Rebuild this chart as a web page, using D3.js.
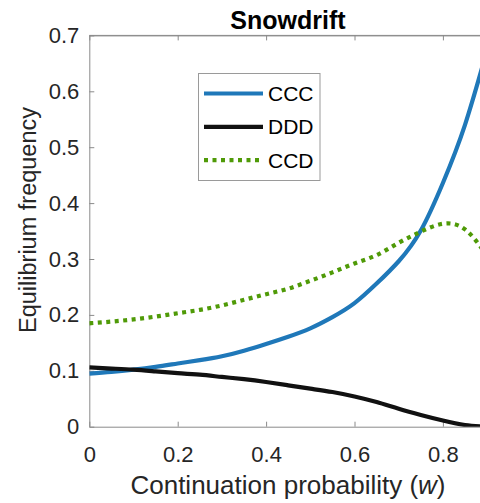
<!DOCTYPE html>
<html><head><meta charset="utf-8">
<script src="https://cdn.jsdelivr.net/npm/d3@7"></script>
<style>body{margin:0;background:#fff}svg{display:block}text{font-family:"Liberation Sans",Arial,sans-serif}</style>
</head><body>
<svg id="c" width="480" height="503"></svg>
<script>
const w = [0,0.05,0.1,0.15,0.2,0.25,0.3,0.35,0.4,0.45,0.5,0.55,0.6,0.65,0.7,0.75,0.8,0.85,0.9];
const ccc = [0.095,0.098,0.102,0.107,0.113,0.119,0.126,0.136,0.148,0.161,0.176,0.196,0.221,0.256,0.296,0.351,0.436,0.540,0.674];
const ddd = [0.106,0.104,0.102,0.099,0.096,0.093,0.089,0.085,0.080,0.074,0.068,0.062,0.054,0.044,0.032,0.021,0.011,0.003,0.000];
const ccd = [0.185,0.188,0.192,0.197,0.203,0.209,0.217,0.227,0.237,0.247,0.261,0.276,0.292,0.307,0.329,0.349,0.363,0.353,0.306];
const seriesNames = ["CCC","DDD","CCD"];
const xTicks = [0,0.2,0.4,0.6,0.8];
const xTickMarks = [0,0.2,0.4,0.6,0.8,1];
const yTicks = [0,0.1,0.2,0.3,0.4,0.5,0.6,0.7];
const title = "Snowdrift";
const xLabel = "Continuation probability (";
const yLabel = "Equilibrium frequency";

const svg = d3.select("#c");
const L = 89.3, T = 35.4, B = 426.7, R = 531.3;
const x = d3.scaleLinear().domain([0,1]).range([L,R]);
const y = d3.scaleLinear().domain([0,0.7]).range([B,T]);
const axisColor = "#8a8a8a", txt = "#262626";

svg.append("defs").append("clipPath").attr("id","clip")
  .append("rect").attr("x",L).attr("y",T).attr("width",R-L).attr("height",B-T);

svg.append("line").attr("x1",L).attr("x2",R).attr("y1",T).attr("y2",T).attr("stroke",axisColor);
const gxm = svg.append("g").attr("transform",`translate(0,${B})`)
  .call(d3.axisBottom(x).tickValues(xTickMarks).tickSizeInner(-5).tickSizeOuter(0).tickFormat(""));
const gx = svg.append("g").attr("transform",`translate(0,${B})`)
  .call(d3.axisBottom(x).tickValues(xTicks).tickSize(0).tickPadding(20).tickFormat(d=>d===0?"0":d3.format(".1f")(d)));
gx.select(".domain").remove();
const gxt = svg.append("g").attr("transform",`translate(0,${T})`)
  .call(d3.axisTop(x).tickValues(xTickMarks).tickSizeInner(-5).tickSizeOuter(0).tickFormat(""));
const gy = svg.append("g").attr("transform",`translate(${L},0)`)
  .call(d3.axisLeft(y).tickValues(yTicks).tickSizeInner(-5).tickSizeOuter(0).tickPadding(10).tickFormat(d=>d===0?"0":d3.format(".1f")(d)));
[gxm,gx,gxt,gy].forEach(g=>{
  g.select(".domain").attr("stroke",axisColor);
  g.selectAll(".tick line").attr("stroke",axisColor);
  g.selectAll(".tick text").attr("fill",txt).style("font-size","22px").style("font-family","'Liberation Sans',Arial,sans-serif");
});

const line = d3.line().x(d=>x(d[0])).y(d=>y(d[1])).curve(d3.curveNatural);
const plot = svg.append("g").attr("clip-path","url(#clip)");
const series = [
  {name:seriesNames[0], vals:ccc, color:"#1f78b9", dash:null},
  {name:seriesNames[1], vals:ddd, color:"#111111", dash:null},
  {name:seriesNames[2], vals:ccd, color:"#4f9a07", dash:"4,4.5"}
];
series.forEach(s=>{
  plot.append("path").datum(w.map((v,i)=>[v,s.vals[i]]))
    .attr("d",line).attr("fill","none").attr("stroke",s.color)
    .attr("stroke-width",4.2).attr("stroke-dasharray",s.dash);
});

svg.append("text").attr("x",288).attr("y",29).attr("text-anchor","middle")
  .style("font-size","25px").style("font-weight","bold").attr("fill","#000").text(title);
const xl = svg.append("text").attr("x",288).attr("y",494).attr("text-anchor","middle")
  .style("font-size","26px").attr("fill",txt);
xl.append("tspan").text(xLabel);
xl.append("tspan").style("font-style","italic").text("w");
xl.append("tspan").text(")");
svg.append("text").attr("transform","translate(36,220) rotate(-90)").attr("text-anchor","middle")
  .style("font-size","23.5px").attr("fill",txt).text(yLabel);

const lg = svg.append("g");
lg.append("rect").attr("x",198.5).attr("y",73.5).attr("width",121.5).attr("height",107)
  .attr("fill","#fff").attr("stroke","#9a9a9a").attr("stroke-width",1);
series.forEach((s,i)=>{
  const yy = 93.5 + i*33.3;
  lg.append("line").attr("x1",204).attr("x2",263).attr("y1",yy).attr("y2",yy)
    .attr("stroke",s.color).attr("stroke-width",4.2).attr("stroke-dasharray",s.dash);
  lg.append("text").attr("x",268).attr("y",yy+7.5).style("font-size","21px").attr("fill","#000").text(s.name);
});
</script>
</body></html>
